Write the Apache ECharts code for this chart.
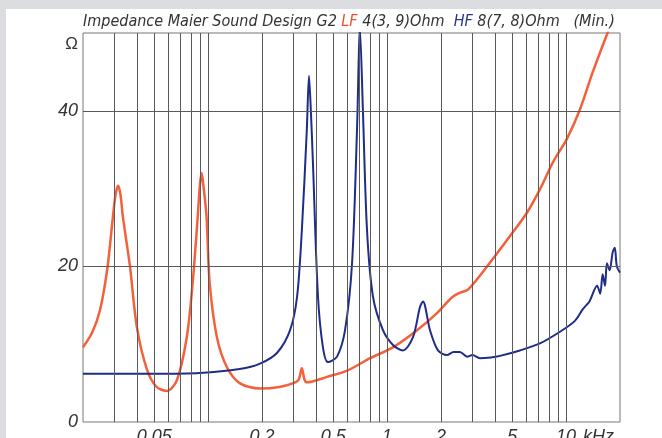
<!DOCTYPE html>
<html>
<head>
<meta charset="utf-8">
<script src="https://cdn.jsdelivr.net/npm/echarts@6/dist/echarts.min.js"></script>
<style>
  html, body { margin: 0; padding: 0; background: #fff; }
  #chart { width: 662px; height: 438px; }
</style>
</head>
<body>
<div id="chart"></div>
<script>
// LF curve, frequency in kHz and impedance in ohm
const lfFreq = [0.020, 0.0225, 0.0249, 0.0273, 0.0294, 0.0304, 0.0314, 0.0324, 0.0334, 0.0366, 0.040, 0.0456,
  0.0516, 0.0589, 0.067, 0.076, 0.082, 0.0875, 0.090, 0.092, 0.094, 0.098, 0.102, 0.112, 0.127, 0.150,
  0.195, 0.250, 0.300, 0.320, 0.334, 0.345, 0.356, 0.462, 0.598, 0.804, 1.078, 1.47, 1.90, 2.30, 2.55,
  2.83, 3.76, 4.86, 6.04, 7.14, 8.45, 10.1, 11.96, 14.1, 17.1, 20];
const lfOhm = [9.6, 11.5, 14.4, 19.6, 26.4, 29.2, 30.4, 29.2, 26.4, 20, 12.2, 6.7,
  4.5, 4.0, 5.4, 10.9, 17.9, 26.4, 30.5, 32, 30.5, 26.4, 17.9, 10.9, 7.1, 5.0,
  4.3, 4.5, 5.0, 5.4, 6.9, 5.5, 5.1, 5.8, 6.6, 8.2, 9.6, 11.8, 14.0, 16.0, 16.6,
  17.0, 20.5, 23.9, 26.9, 29.9, 33.4, 36.4, 40.2, 45, 50.1, 54];

// HF curve
const hfFreq = [0.020, 0.05, 0.09, 0.15, 0.195, 0.243, 0.287, 0.314, 0.334, 0.356, 0.366, 0.375, 0.385,
  0.411, 0.438, 0.467, 0.525, 0.582, 0.637, 0.679, 0.705, 0.733, 0.772, 0.834, 0.948, 1.078, 1.226,
  1.395, 1.527, 1.586, 1.736, 1.924, 2.16, 2.35, 2.55, 2.8, 3.0, 3.3, 3.8, 4.27, 5.52, 7.14, 9.24,
  11.2, 12.4, 13.5, 14.9, 15.5, 16.0, 16.5, 16.9, 17.5, 18.2, 18.7, 19.2, 20];
const hfOhm = [6.2, 6.2, 6.3, 6.8, 7.5, 8.9, 11.8, 16.1, 24.7, 37.6, 44.5, 40, 33.4,
  16.1, 9.6, 7.7, 8.4, 11.8, 20.4, 37.6, 50.5, 39.8, 24.7, 16.1, 11.8, 9.9, 9.2,
  10.9, 14.8, 15.5, 11.8, 9.2, 8.6, 9.0, 9.0, 8.4, 8.6, 8.2, 8.3, 8.5, 9.2, 10.1, 11.6,
  13.0, 14.5, 15.5, 17.5, 16.5, 19, 17.5, 20.4, 19.5, 21.8, 22.4, 20, 19.2];

// grid lines and tick labels
const gridFreqs = [0.03, 0.04, 0.05, 0.06, 0.07, 0.08, 0.09, 0.1, 0.2, 0.3, 0.4, 0.5, 0.6, 0.7, 0.8, 0.9,
  1, 2, 3, 4, 5, 6, 7, 8, 9, 10];
const labelFreqs = [0.05, 0.2, 0.5, 1, 2, 5, 10];
const labelTexts = ['0.05', '0.2', '0.5', '1', '2', '5', '10'];
const ohmGrid = [20, 40];
const ohmLabels = { 0: '0', 20: '20', 40: '40', 50: '{o|Ω}' };

const zip = (xs, ys) => xs.map((x, i) => [x, ys[i]]);

const vLines = gridFreqs.map((f) => {
  const idx = labelFreqs.indexOf(f);
  return {
    xAxis: f,
    label: idx >= 0
      ? { show: true, position: 'start', formatter: labelTexts[idx], distance: 6,
          color: '#333', fontSize: 18, fontStyle: 'italic', fontFamily: 'Liberation Sans' }
      : { show: false },
  };
});
const hLines = ohmGrid.map((v) => ({ yAxis: v, label: { show: false } }));

const titleFont = { fontSize: 16, fontStyle: 'italic', fontFamily: 'Liberation Sans Narrow, DejaVu Sans Condensed' };

const myChart = echarts.init(document.getElementById('chart'));
myChart.setOption({
  animation: false,
  backgroundColor: '#fff',
  graphic: [
    { type: 'rect', shape: { x: 0, y: 0, width: 662, height: 9 }, style: { fill: '#dcdde0' }, silent: true },
    { type: 'rect', shape: { x: 0, y: 0, width: 6, height: 438 }, style: { fill: '#dcdde0' }, silent: true },
    {
      type: 'text', left: 83, top: 14, silent: true,
      style: {
        text: '{a|Impedance Maier Sound Design G2 }{r|LF}{a| 4(3, 9)Ohm  }{b|HF}{a| 8(7, 8)Ohm   (Min.)}',
        rich: {
          a: Object.assign({ fill: '#333' }, titleFont),
          r: Object.assign({ fill: '#f0502a' }, titleFont),
          b: Object.assign({ fill: '#2a3590' }, titleFont),
        },
      },
    },
    {
      type: 'text', left: 583, top: 428, silent: true,
      style: { text: 'kHz', fill: '#333', fontSize: 18, fontStyle: 'italic', fontFamily: 'Liberation Sans' },
    },
  ],
  grid: { left: 83, right: 42, top: 33, bottom: 16, show: true, borderColor: '#777', borderWidth: 1 },
  xAxis: {
    type: 'log', logBase: 10, min: 0.02, max: 20,
    axisLine: { show: false }, axisTick: { show: false }, axisLabel: { show: false },
    splitLine: { show: false },
  },
  yAxis: {
    type: 'value', min: 0, max: 50, interval: 10,
    axisLine: { show: false }, axisTick: { show: false }, splitLine: { show: false },
    axisLabel: {
      margin: 5, color: '#333', fontSize: 18, fontStyle: 'italic', fontFamily: 'Liberation Sans',
      formatter: (v) => ohmLabels[v] || '',
      rich: { o: { fontSize: 17, fontStyle: 'normal', color: '#333', padding: [22, 0, 0, 0] } },
    },
  },
  series: [
    {
      name: 'grid', type: 'line', data: [], silent: true,
      markLine: {
        silent: true, symbol: ['none', 'none'], animation: false,
        lineStyle: { color: '#5a5a5a', width: 1, type: 'solid' },
        data: vLines.concat(hLines),
      },
    },
    {
      name: 'LF', type: 'line', data: zip(lfFreq, lfOhm), smooth: 0.3, showSymbol: false,
      lineStyle: { color: '#f4603a', width: 2.5 }, clip: true,
    },
    {
      name: 'HF', type: 'line', data: zip(hfFreq, hfOhm), smooth: 0.3, showSymbol: false,
      lineStyle: { color: '#1f2d88', width: 2 }, clip: true,
    },
  ],
});
</script>
</body>
</html>
